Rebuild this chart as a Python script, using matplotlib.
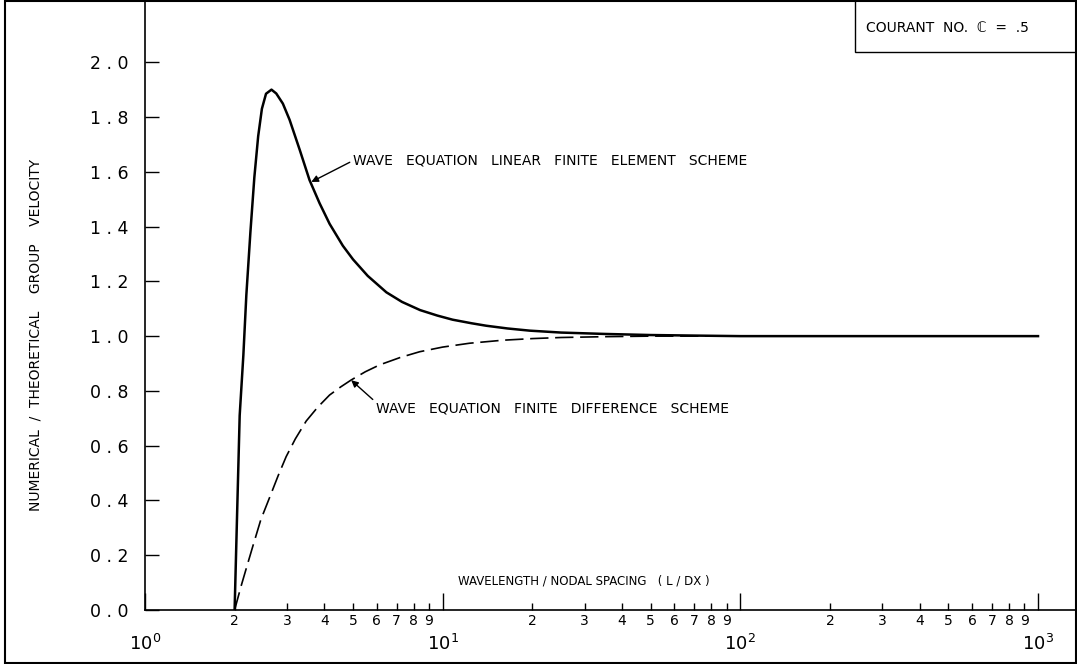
import numpy as np
import matplotlib
matplotlib.use("Agg")
import matplotlib.pyplot as plt
from matplotlib.ticker import LogLocator, FuncFormatter, FixedLocator
from matplotlib.patches import Rectangle

# values
fe_x = [2.0, 2.04, 2.08, 2.14, 2.19, 2.26, 2.33, 2.40, 2.47, 2.55, 2.66, 2.76,
        2.905, 3.06, 3.31, 3.57, 3.86, 4.17, 4.62, 5.0, 5.6, 6.47, 7.3, 8.4,
        9.6, 10.8, 12.5, 14.0, 16.5, 19.6, 25.0, 35.0, 50.0, 70.0, 100.0, 1000.0]
fe_y = [0.0, 0.36, 0.71, 0.93, 1.15, 1.38, 1.58, 1.73, 1.83, 1.885, 1.90, 1.886,
        1.849, 1.79, 1.68, 1.57, 1.485, 1.41, 1.33, 1.28, 1.22, 1.16, 1.125, 1.095,
        1.075, 1.06, 1.047, 1.038, 1.028, 1.02, 1.013, 1.008, 1.004, 1.002, 1.0, 1.0]

fd_x = [2.0, 2.1, 2.2, 2.30, 2.45, 2.62, 2.80, 2.98, 3.2, 3.48, 3.8, 4.17, 4.55,
        4.93, 5.5, 6.14, 7.2, 8.37, 10.0, 12.3, 15.9, 20.0, 25.0, 35.0, 50.0, 1000.0]
fd_y = [0.0, 0.085, 0.16, 0.231, 0.33, 0.41, 0.49, 0.56, 0.625, 0.69, 0.74, 0.785,
        0.815, 0.84, 0.87, 0.895, 0.922, 0.943, 0.96, 0.974, 0.985, 0.991, 0.995,
        0.998, 1.0, 1.0]

y_ticks = [0.0, 0.2, 0.4, 0.6, 0.8, 1.0, 1.2, 1.4, 1.6, 1.8, 2.0]

fig = plt.figure(figsize=(10.77, 6.64), dpi=100)
ax = fig.add_axes([145 / 1077, 54 / 664, 932 / 1077, 608 / 664])

ax.plot(fe_x, fe_y, color='black', lw=1.8)
ax.plot(fd_x, fd_y, color='black', lw=1.2, dashes=(11, 4))

ax.set_xscale('log')
ax.set_xlim(1.0, 1352)
ax.set_ylim(0, 2.22)

for s in ['top', 'right']:
    ax.spines[s].set_visible(False)
ax.spines['left'].set_linewidth(1.2)
ax.spines['bottom'].set_linewidth(1.2)

ax.yaxis.set_major_locator(FixedLocator(y_ticks))
ax.yaxis.set_major_formatter(FuncFormatter(lambda v, p: f"{v:.1f}".replace('.', ' . ')))
ax.tick_params(axis='y', direction='in', length=10, width=1, pad=12, labelsize=12.5)

ax.xaxis.set_major_locator(FixedLocator([1, 10, 100, 1000]))
ax.xaxis.set_minor_locator(LogLocator(base=10, subs=np.arange(2, 10), numticks=20))
ax.xaxis.set_major_formatter(FuncFormatter(lambda v, p: r"$\mathdefault{10^{%d}}$" % round(np.log10(v))))
ax.xaxis.set_minor_formatter(FuncFormatter(lambda v, p: "%d" % round(v / 10 ** np.floor(np.log10(v) + 1e-9))))
ax.tick_params(axis='x', which='major', direction='in', length=12, width=1, pad=17, labelsize=13)
ax.tick_params(axis='x', which='minor', direction='in', length=5, width=1, pad=3, labelsize=10)

ax.set_ylabel("NUMERICAL  /  THEORETICAL    GROUP    VELOCITY", fontsize=10)
ax.yaxis.set_label_coords(-0.11, 0.452)

ax.annotate("WAVE   EQUATION   LINEAR   FINITE   ELEMENT   SCHEME", xy=(3.62, 1.563), xytext=(4.98, 1.64),
            fontsize=10, ha='left', va='center',
            arrowprops=dict(arrowstyle='-|>', color='black', lw=1, mutation_scale=10,
                            shrinkA=0, shrinkB=0, relpos=(0, 0.5)))
ax.annotate("WAVE   EQUATION   FINITE   DIFFERENCE   SCHEME", xy=(4.93, 0.839), xytext=(5.95, 0.734),
            fontsize=10, ha='left', va='center',
            arrowprops=dict(arrowstyle='-|>', color='black', lw=1, mutation_scale=10,
                            shrinkA=0, shrinkB=0, relpos=(0, 1)))
ax.text(11.3, 0.106, "WAVELENGTH / NODAL SPACING   ( L / DX )", fontsize=8.5, ha='left', va='center')

# Courant box and outer frame
fig.patches.append(Rectangle((855 / 1077, 612 / 664), 222 / 1077, 52 / 664, transform=fig.transFigure,
                             fill=False, edgecolor='black', lw=1.0))
fig.text(866 / 1077, 636 / 664, "COURANT  NO.  \u2102  =  .5", fontsize=10, ha='left', va='center')
fig.patches.append(Rectangle((5 / 1077, 1 / 664), 1071 / 1077, 662 / 664, transform=fig.transFigure,
                             fill=False, edgecolor='black', lw=1.5))

fig.savefig("out.png", dpi=100)
